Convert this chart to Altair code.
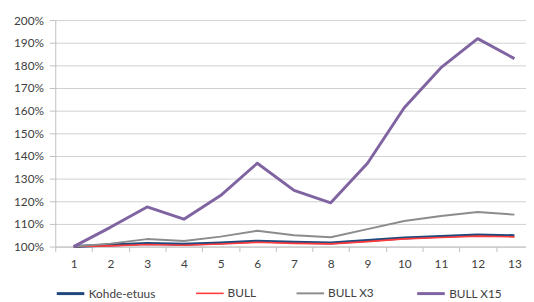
import altair as alt
import pandas as pd

periods = list(range(1, 14))
series_names = ["Kohde-etuus", "BULL", "BULL X3", "BULL X15"]
kohde = [1.000, 1.007, 1.014, 1.010, 1.016, 1.024, 1.019, 1.016, 1.027, 1.038, 1.045, 1.051, 1.048]
bull = [1.000, 1.003, 1.009, 1.006, 1.011, 1.019, 1.014, 1.012, 1.022, 1.034, 1.040, 1.046, 1.043]
bull_x3 = [1.000, 1.013, 1.033, 1.025, 1.044, 1.070, 1.050, 1.041, 1.077, 1.113, 1.135, 1.153, 1.141]
bull_x15 = [1.000, 1.085, 1.175, 1.121, 1.225, 1.368, 1.248, 1.193, 1.368, 1.613, 1.790, 1.918, 1.830]
y_ticks = [1.0, 1.1, 1.2, 1.3, 1.4, 1.5, 1.6, 1.7, 1.8, 1.9, 2.0]

colors = ["#1F497D", "#FF3B3B", "#8C8C8C", "#8064A2"]
widths = [3.0, 1.6, 2.0, 3.0]

rows = []
for name, vals in zip(series_names, [kohde, bull, bull_x3, bull_x15]):
    for p, v in zip(periods, vals):
        rows.append({"period": p, "value": v, "series": name})
df = pd.DataFrame(rows)

W = 478
H = 230
cat_px = 37.3
x_max = 0.5 + W / cat_px
tick_vals = [k + 0.5 for k in range(0, 13)]

font = "Lato"
txt = "#404040"

leg = alt.Legend(title=None, orient="none", direction="horizontal",
                 legendX=0, legendY=262, symbolType="stroke",
                 symbolSize=784, columnPadding=37, labelOffset=3,
                 labelFont=font, labelFontSize=12, labelColor=txt, padding=0)

chart = alt.Chart(df).mark_line(strokeJoin="round").encode(
    x=alt.X("period:Q",
            scale=alt.Scale(domain=[0.5, x_max], nice=False, zero=False),
            axis=alt.Axis(values=tick_vals, title=None, grid=False,
                          labelExpr="format(datum.value + 0.5, 'd')",
                          labelOffset=cat_px / 2, tickSize=5, labelPadding=7,
                          labelFlush=False, labelOverlap=False)),
    y=alt.Y("value:Q",
            scale=alt.Scale(domain=[1.0, 2.0], nice=False, zero=False),
            axis=alt.Axis(values=y_ticks, format=".0%", title=None,
                          tickSize=6, labelPadding=6)),
    color=alt.Color("series:N",
                    scale=alt.Scale(domain=series_names, range=colors),
                    sort=series_names, legend=leg),
    strokeWidth=alt.StrokeWidth("series:O",
                                scale=alt.Scale(type="ordinal", domain=series_names, range=widths),
                                sort=series_names, legend=leg),
    order=alt.Order("period:Q"),
).properties(
    width=W, height=H,
    autosize=alt.AutoSizeParams(type="none"),
    padding={"left": 48, "top": 10, "right": 0, "bottom": 53},
).configure_view(
    stroke=None
).configure_axis(
    labelFont=font, labelFontSize=12, labelColor=txt,
    domainColor="#BFBFBF", tickColor="#BFBFBF", gridColor="#D0D0D0",
    domainWidth=1, gridWidth=1,
)

chart.save("out.html", embed_options={"renderer": "svg", "actions": False})
